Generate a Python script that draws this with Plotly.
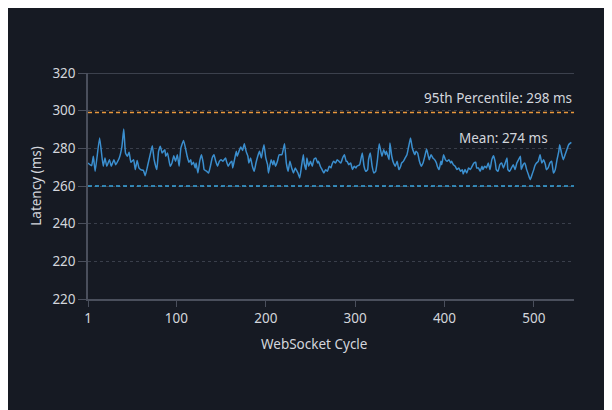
import plotly.graph_objects as go

# ---- data ----
cycles = [1, 5, 7, 9, 14, 18, 20, 22, 25, 27, 30, 32, 36, 39, 41, 43, 45, 47, 49, 52, 54, 56, 58, 60, 63, 65, 68, 71, 73, 75, 78, 80, 82, 84, 87, 88, 90, 93, 95, 97, 99, 101, 103, 105, 108,
          112, 114, 116, 117, 119, 121, 122, 124, 126, 128, 130, 131, 134, 136, 138, 140, 142, 144, 146, 148, 150, 152, 155, 156, 158, 160, 162, 163, 165, 167, 168, 170, 172, 174, 176, 178, 180, 181, 183, 185, 187, 189, 191, 193, 195, 196, 198, 200, 202, 203, 206, 208, 209, 211, 213, 215, 218,
          221, 223, 225, 227, 229, 231, 233, 234, 236, 238, 240, 242, 243, 245, 246, 248, 250, 252, 254, 256, 258, 259, 261, 263, 265, 267, 269, 271, 273, 274, 276, 278, 280, 282, 284, 286, 288, 290, 291, 293, 295, 297, 299, 301, 302, 305, 306, 308, 310, 312, 314, 315, 317, 319, 321, 323, 325, 327,
          330, 332, 334, 335, 338, 339, 341, 343, 345, 347, 349, 351, 352, 354, 356, 358, 360, 362, 364, 367, 368, 370, 372, 374, 376, 378, 380, 382, 383, 385, 387, 389, 391, 392, 394, 396, 397, 399, 401, 403, 405, 407, 408, 410, 412, 414, 416, 418, 420, 421, 423, 425, 427, 429, 431, 433, 435, 436,
          438, 440, 442, 443, 445, 447, 449, 451, 453, 455, 457, 458, 460, 462, 464, 466, 468, 470, 471, 473, 475, 477, 479, 481, 483, 485, 486, 488, 490, 492, 494, 496, 498, 500, 501, 503, 505, 507, 509, 511, 513, 514, 516, 518, 520, 522, 524, 526, 528, 529, 531, 533, 535, 537, 539, 541, 542]

latency_ms = [272.2, 270.8, 275.8, 267.8, 285.5, 270.5, 274.9, 270.5, 274.0, 270.5, 274.0, 271.3, 274.9, 281.1, 290.3, 277.5, 275.8, 277.9, 272.6, 274.0, 268.7, 273.6, 269.6, 268.7, 268.3, 265.5, 271.3, 277.5, 281.4, 274.0, 268.7, 278.4, 281.1, 277.5, 279.3, 275.8, 277.5, 270.5, 272.2, 276.1, 273.1, 276.6, 270.5, 280.2, 284.2,
              275.8, 272.6, 274.0, 271.3, 272.6, 269.6, 272.2, 266.9, 273.1, 276.6, 272.2, 268.7, 267.8, 266.9, 270.5, 274.9, 276.6, 273.1, 270.5, 273.1, 274.0, 273.1, 274.9, 273.1, 270.5, 272.2, 273.1, 269.6, 274.0, 278.4, 275.8, 278.4, 280.7, 278.9, 282.5, 278.4, 275.8, 272.2, 274.9, 270.5, 267.8, 272.2, 275.8, 278.4, 274.9, 277.5, 281.9, 274.9, 271.3, 266.9, 274.0, 271.3, 273.6, 270.5, 273.1, 276.6, 276.6,
              282.5, 272.2, 267.8, 273.1, 269.6, 266.9, 269.6, 268.7, 266.9, 264.3, 270.5, 276.6, 272.2, 268.7, 274.9, 270.5, 273.1, 270.5, 274.3, 274.9, 272.2, 273.1, 270.5, 268.7, 266.9, 268.7, 267.8, 270.5, 269.6, 271.3, 273.1, 272.2, 274.0, 273.1, 272.2, 274.9, 276.6, 273.1, 273.1, 271.3, 272.2, 268.7, 270.5, 269.6, 270.5, 271.3, 273.1, 277.5, 270.5, 267.8, 268.7, 274.0, 277.5, 270.5, 266.9, 267.8, 274.0, 282.5,
              275.8, 279.3, 276.6, 278.4, 274.0, 282.8, 275.8, 272.2, 270.5, 273.1, 268.7, 270.5, 272.2, 273.1, 274.9, 276.6, 281.1, 285.5, 280.2, 276.6, 278.4, 277.5, 273.1, 270.5, 272.2, 275.8, 279.6, 275.8, 274.0, 276.6, 274.9, 274.0, 272.2, 270.5, 268.7, 273.1, 271.3, 276.6, 274.0, 273.1, 274.0, 272.2, 273.1, 271.3, 270.5, 268.7, 269.6, 267.8, 268.7, 266.4, 268.7, 266.9, 269.6, 268.7, 270.5, 272.2, 272.6, 269.6,
              269.6, 267.8, 270.5, 268.7, 270.5, 269.6, 272.2, 268.7, 274.0, 276.1, 272.2, 268.7, 267.8, 271.3, 272.2, 269.6, 272.2, 274.9, 268.7, 267.8, 269.6, 271.3, 268.7, 272.2, 274.0, 275.8, 268.7, 271.3, 272.2, 268.7, 266.0, 263.4, 266.0, 268.7, 270.5, 272.2, 273.1, 276.6, 272.2, 274.0, 271.3, 268.7, 269.6, 272.2, 273.1, 266.9, 268.7, 274.0, 278.4, 281.9, 277.5, 274.0, 276.6, 279.3, 281.9, 282.8, 283.2]

p95_line = 299
p95_label = "95th Percentile: 298 ms"
mean_line = 260
mean_label = "Mean: 274 ms"

x_title = "WebSocket Cycle"
y_title = "Latency (ms)"
x_tickvals = [1, 100, 200, 300, 400, 500]
y_tickvals = [200, 220, 240, 260, 280, 300, 320]
y_ticktext = ["220", "220", "240", "260", "280", "300", "320"]

W, H = 612, 410
ML, MR, MT, MB = 80, 46, 65, 119
PW, PH = W - ML - MR, H - MT - MB

BG = "#161a23"
TXT = "#d3d6dc"
AXIS = "#4a4f5c"
GRID = "#3a3f4b"
FONT = "Noto Sans"
FS = 13.5

fig = go.Figure()
fig.add_trace(go.Scatter(
    x=cycles, y=latency_ms, mode="lines",
    line=dict(color="#3b8fcf", width=1.5, shape="spline", smoothing=0.4),
    showlegend=False, hoverinfo="skip"))

fig.add_hline(y=p95_line, line=dict(color="#e8973c", width=1.5, dash="4px,3px"))
fig.add_hline(y=mean_line, line=dict(color="#3aa6e0", width=1.5, dash="4px,3px"))

# solid top frame line at 320
fig.add_shape(type="line", xref="paper", x0=0, x1=1, yref="y", y0=320, y1=320,
              line=dict(color=AXIS, width=1.5))

fig.add_annotation(x=545, y=p95_line, xref="x", yref="y", text=p95_label,
                   showarrow=False, xanchor="right", yanchor="bottom", yshift=4,
                   font=dict(family=FONT, size=FS, color=TXT))
fig.add_annotation(x=518, y=280, xref="x", yref="y", text=mean_label,
                   showarrow=False, xanchor="right", yanchor="bottom", yshift=-1,
                   font=dict(family=FONT, size=FS, color=TXT))
# x-axis title, centred on the whole figure
fig.add_annotation(x=(W / 2 - ML) / PW, y=-45 / PH, xref="paper", yref="paper",
                   text=x_title, showarrow=False, xanchor="center", yanchor="middle",
                   font=dict(family=FONT, size=FS, color=TXT))

fig.update_layout(
    width=W, height=H,
    margin=dict(l=ML, r=MR, t=MT, b=MB),
    paper_bgcolor=BG, plot_bgcolor=BG,
    font=dict(family=FONT, size=FS, color=TXT),
    xaxis=dict(
        range=[1, 545], tickvals=x_tickvals, ticktext=[str(v) for v in x_tickvals],
        showgrid=False, zeroline=False, showline=True, linecolor=AXIS, linewidth=1.5,
        ticks="outside", ticklen=6, tickcolor=AXIS, tickwidth=1,
        tickfont=dict(family=FONT, size=FS, color=TXT),
    ),
    yaxis=dict(
        range=[200, 320], tickvals=y_tickvals, ticktext=y_ticktext,
        showgrid=True, gridcolor=GRID, griddash="dot", gridwidth=1,
        zeroline=False, showline=True, linecolor=AXIS, linewidth=1.5,
        ticks="outside", ticklen=8, tickcolor=AXIS, tickwidth=1,
        tickfont=dict(family=FONT, size=FS, color=TXT),
        title=dict(text=y_title, standoff=8, font=dict(family=FONT, size=FS, color=TXT)),
    ),
)

fig.write_html("out.html")
